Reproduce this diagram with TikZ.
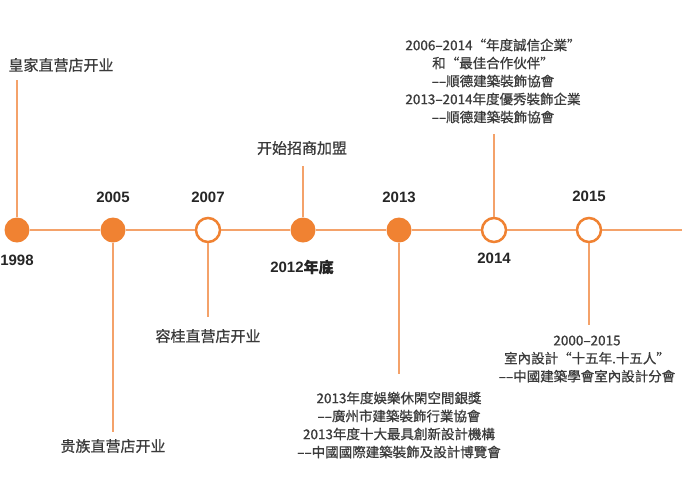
\documentclass[tikz,border=0pt]{standalone}
\usepackage{fontspec}
\setmainfont{Liberation Sans}
\newfontfamily\cjk[FakeBold=0.7]{Noto Sans CJK SC}
\usepackage{xcolor}
\usetikzlibrary{positioning}
\definecolor{dot}{HTML}{F08232}
\definecolor{stem}{HTML}{F4A26A}
\definecolor{ink}{HTML}{3A3A3A}
\newcommand{\dd}{–\kern0pt–}

\begin{document}
\begin{tikzpicture}[x=1pt, y=-1pt,
  full/.style={circle, fill=dot, minimum size=25pt, inner sep=0pt},
  hollow/.style={circle, draw=dot, line width=2.5pt, fill=white, minimum size=24pt, inner sep=0pt},
  yr/.style={font=\fontsize{15}{15}\selectfont\bfseries, text=black!85},
  lbl/.style={font=\cjk\fontsize{15}{18}\selectfont, text=ink, inner sep=0pt},
  blk/.style={font=\cjk\fontsize{13.5}{18}\selectfont, text=ink, align=center, inner sep=0pt},
  e/.style={stem, line width=1.4pt}
]
  \useasboundingbox (0,0) rectangle (682,483);
  \fill[white] (0,0) rectangle (682,483);

  % time axis
  \coordinate (tail) at (682,230);
  \node[full]   (c1998) at (17,230)  {};
  \node[full]   (c2005) at (113,230) {};
  \node[hollow] (c2007) at (208,230) {};
  \node[full]   (c2012) at (303,230) {};
  \node[full]   (c2013) at (399,230) {};
  \node[hollow] (c2014) at (494,230) {};
  \node[hollow] (c2015) at (589,230) {};

  % years
  \node[yr] (y1998) at (17,260)  {1998};
  \node[yr] (y2005) at (113,197) {2005};
  \node[yr] (y2007) at (208,197) {2007};
  \node[yr] (y2012) at (302,267) {2012\cjk 年底};
  \node[yr] (y2013) at (399,197) {2013};
  \node[yr] (y2014) at (494,258) {2014};
  \node[yr] (y2015) at (589,196) {2015};

  % events
  \node[lbl] (t1998) at (61,65)  {皇家直营店开业};
  \node[lbl] (t2005) at (113,446) {贵族直营店开业};
  \node[lbl] (t2007) at (208,336) {容桂直营店开业};
  \node[lbl] (t2012) at (302,148) {开始招商加盟};
  \node[blk] (t2013) at (399,425) {2013年度娛樂休閑空間銀獎\\
    \dd 廣州市建築裝飾行業協會\\
    2013年度十大最具創新設計機構\\
    \dd 中國國際建築裝飾及設計博覽會};
  \node[blk] (t2014) at (493,81) {2006–2014“年度誠信企業”\\
    和“最佳合作伙伴”\\
    \dd 順德建築裝飾協會\\
    2013–2014年度優秀裝飾企業\\
    \dd 順德建築裝飾協會};
  \node[blk] (t2015) at (587,359) {2000–2015\\
    室內設計“十五年.十五人”\\
    \dd 中國建築學會室內設計分會};

  % stems
  \draw[e] (c1998) -- ([yshift=-8pt]c1998 |- t1998.south);
  \draw[e] (c2005) -- ([yshift=7pt]c2005 |- t2005.north);
  \draw[e] (c2007) -- ([yshift=12pt]c2007 |- t2007.north);
  \draw[e] (c2012) -- ([yshift=-11pt]c2012 |- t2012.south);
  \draw[e] (c2013) -- ([yshift=18pt]c2013 |- t2013.north);
  \draw[e] (c2014) -- ([yshift=-10pt]c2014 |- t2014.south);
  \draw[e] (c2015) -- ([yshift=10pt]c2015 |- t2015.north);

  % axis between the dots
  \draw[e] (c1998) -- (c2005) -- (c2007) -- (c2012) -- (c2013) -- (c2014) -- (c2015) -- (tail);
\end{tikzpicture}
\end{document}
